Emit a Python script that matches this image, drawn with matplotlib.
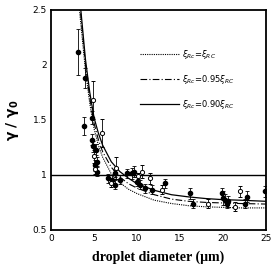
import numpy as np
import matplotlib
matplotlib.use('Agg')
import matplotlib.pyplot as plt

# model curves
curve_x = [3.3, 3.4, 4, 4.5, 5, 5.5, 6, 7, 8, 9, 10, 12, 14, 16, 18, 20, 22, 25]
ratio_100 = [2.5, 2.42, 1.95, 1.65, 1.42, 1.27, 1.16, 1.01, 0.93, 0.87, 0.83, 0.77, 0.74, 0.72, 0.71, 0.705, 0.70, 0.70]
ratio_095 = [2.58, 2.5, 2.0, 1.70, 1.47, 1.32, 1.21, 1.07, 0.98, 0.92, 0.88, 0.82, 0.78, 0.76, 0.75, 0.745, 0.74, 0.735]
ratio_090 = [2.62, 2.55, 2.05, 1.75, 1.52, 1.38, 1.27, 1.12, 1.03, 0.97, 0.92, 0.86, 0.82, 0.80, 0.785, 0.775, 0.77, 0.76]

# measurements, filled symbols
filled_x = [3.17, 3.95, 3.87, 4.73, 4.73, 4.92, 5.1, 5.3, 5.2, 5.3, 6.67, 7.05, 7.44, 8.0,
            7.4, 8.8, 9.4, 9.6, 9.96, 10.35, 10.9, 11.7, 13.3, 16.2, 16.5, 19.85, 20.0,
            20.2, 20.4, 20.6, 22.6, 22.75, 24.9]
filled_y = [2.12, 1.88, 1.445, 1.52, 1.32, 1.26, 1.09, 1.12, 1.23, 1.03, 0.97, 0.955, 0.91, 0.955,
            1.015, 1.015, 1.015, 1.03, 0.94, 0.91, 0.88, 0.865, 0.925, 0.835, 0.74, 0.835, 0.79,
            0.775, 0.74, 0.76, 0.74, 0.80, 0.85]
filled_err = [0.21, 0.09, 0.08, 0.06, 0.05, 0.05, 0.05, 0.04, 0.05, 0.04, 0.04, 0.04, 0.04, 0.04,
              0.03, 0.04, 0.05, 0.05, 0.04, 0.04, 0.04, 0.04, 0.04, 0.05, 0.04, 0.05, 0.06,
              0.05, 0.04, 0.05, 0.04, 0.05, 0.05]

# measurements, open symbols
open_x = [4.84, 5.9, 5.0, 5.15, 7.6, 7.0, 10.6, 11.5, 12.9, 18.3, 21.4, 22.0, 10.1]
open_y = [1.68, 1.38, 1.17, 1.05, 1.06, 0.93, 1.03, 0.97, 0.865, 0.74, 0.71, 0.85, 0.99]
open_err = [0.17, 0.13, 0.06, 0.04, 0.10, 0.04, 0.06, 0.05, 0.04, 0.04, 0.04, 0.05, 0.03]

fig = plt.figure(figsize=(2.76, 2.76), dpi=100)
ax = fig.add_axes([0.185, 0.167, 0.779, 0.797])

ax.plot(curve_x, ratio_100, color='black', lw=0.8, ls=(0, (1, 1)),
        label=r'$\xi_{Rc}$=$\xi_{RC}$')
ax.plot(curve_x, ratio_095, color='black', lw=0.8, ls=(0, (6, 2, 1, 2)),
        label=r'$\xi_{Rc}$=0.95$\xi_{RC}$')
ax.plot(curve_x, ratio_090, color='black', lw=0.9, ls='-',
        label=r'$\xi_{Rc}$=0.90$\xi_{RC}$')

ax.errorbar(filled_x, filled_y, yerr=filled_err, fmt='o', ms=3.0, mfc='black', mec='black',
            ecolor='black', elinewidth=0.6, capsize=1.2, capthick=0.6)
ax.errorbar(open_x, open_y, yerr=open_err, fmt='o', ms=3.0, mfc='white', mec='black', mew=0.7,
            ecolor='black', elinewidth=0.6, capsize=1.2, capthick=0.6)

ax.axhline(1.0, color='black', lw=1.0)

ax.set_xlim(0, 25)
ax.set_ylim(0.5, 2.5)
ax.set_xticks([0, 5, 10, 15, 20, 25])
ax.set_yticks([0.5, 1, 1.5, 2, 2.5])
ax.set_yticklabels(['0.5', '1', '1.5', '2', '2.5'])
ax.tick_params(direction='in', length=0, labelsize=6.5, pad=3)
for s in ax.spines.values():
    s.set_linewidth(1.3)

ax.set_xlabel('droplet diameter (μm)', family='Liberation Serif', fontweight='bold', fontsize=10, labelpad=5)
ax.set_ylabel(r'$\mathbf{\gamma\ /\ \gamma_0}$', fontsize=10, labelpad=8)

leg = ax.legend(loc='upper left', bbox_to_anchor=(0.38, 0.86), frameon=False, fontsize=6,
                handlelength=4.6, labelspacing=1.4, handletextpad=0.4)

fig.savefig('out.png', dpi=100)
